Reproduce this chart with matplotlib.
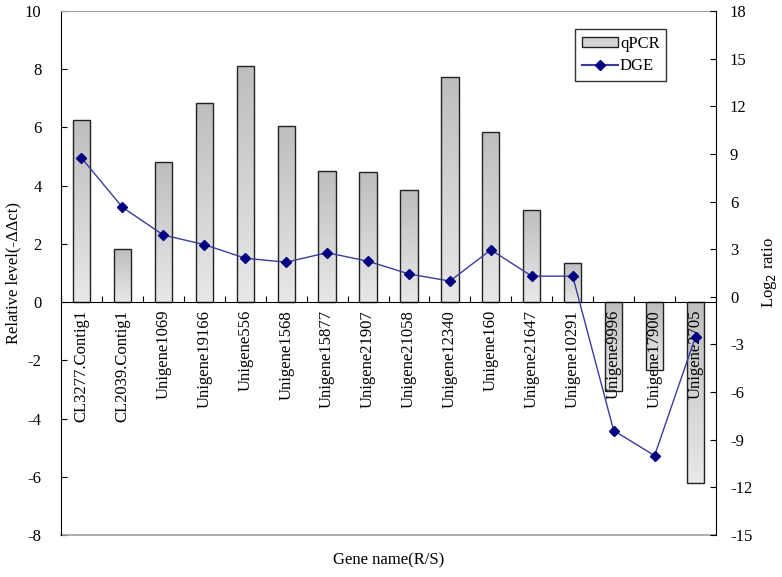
import numpy as np
import matplotlib
matplotlib.use("Agg")
import matplotlib.pyplot as plt
from matplotlib.lines import Line2D
from matplotlib.patches import Patch
from matplotlib.colors import LinearSegmentedColormap

genes = ["CL3277.Contig1", "CL2039.Contig1", "Unigene1069", "Unigene19166", "Unigene556",
         "Unigene1568", "Unigene15877", "Unigene21907", "Unigene21058", "Unigene12340",
         "Unigene160", "Unigene21647", "Unigene10291", "Unigene9996", "Unigene17900",
         "Unigene2705"]
qpcr = [6.24, 1.82, 4.80, 6.84, 8.10, 6.06, 4.50, 4.46, 3.84, 7.73, 5.83, 3.18, 1.36,
        -3.04, -2.33, -6.21]
dge = [8.75, 5.64, 3.89, 3.29, 2.43, 2.18, 2.78, 2.24, 1.44, 0.99, 2.96, 1.30, 1.30,
       -8.42, -10.0, -2.51]
left_ticks = [10, 8, 6, 4, 2, 0, -2, -4, -6, -8]
right_ticks = [18, 15, 12, 9, 6, 3, 0, -3, -6, -9, -12, -15]

plt.rcParams['font.family'] = ['Liberation Serif', 'DejaVu Serif']
plt.rcParams['axes.unicode_minus'] = False

FS = 12
fig = plt.figure(figsize=(7.82, 5.77), dpi=100)
ax = fig.add_axes([61/782, 1-535/577, 655/782, 524/577])
x = np.arange(len(genes))

ax.set_xlim(-0.5, len(genes) - 0.5)
ax.set_ylim(-8, 10)

bars = ax.bar(x, qpcr, width=0.42, facecolor='none', edgecolor='#222222', linewidth=1.0, zorder=3)
grad = np.linspace(0, 1, 100).reshape(-1, 1)
cmap = LinearSegmentedColormap.from_list('g', ['#e8e8e8', '#bebebe'])
for b in bars:
    x0, y0 = b.get_x(), b.get_y()
    w, h = b.get_width(), b.get_height()
    lo, hi = min(y0, y0 + h), max(y0, y0 + h)
    im = ax.imshow(grad, extent=[x0, x0 + w, lo, hi], origin='lower', cmap=cmap,
                   aspect='auto', zorder=2)
    im.set_clip_path(b)
ax.set_xlim(-0.5, len(genes) - 0.5)
ax.set_ylim(-8, 10)

# spines
ax.spines['bottom'].set_position(('data', 0))
ax.spines['bottom'].set_color('#000000')
ax.spines['bottom'].set_zorder(4)
ax.spines['top'].set_color('#a0a0a0')
ax.spines['right'].set_visible(False)
ax.axhline(-8, color='#a0a0a0', linewidth=1.2, clip_on=False)
ax.set_xticks(np.arange(-0.5, len(genes), 1.0))
ax.set_xticklabels([])
ax.tick_params(axis='x', direction='in', length=4, color='#000000')
ax.set_yticks(left_ticks)
ax.set_yticklabels([str(t) for t in left_ticks])
ax.tick_params(axis='y', direction='in', length=4, labelsize=FS, pad=14)
ax.text(-0.072, 0.5, 'Relative level(-ΔΔct)', transform=ax.transAxes, rotation=90,
        ha='center', va='center', fontsize=FS)

for i, g in enumerate(genes):
    ax.text(i, -0.27, g, rotation=90, ha='center', va='top', fontsize=FS, zorder=5)

ax.text(0.5, -0.048, 'Gene name(R/S)', transform=ax.transAxes, ha='center', va='center', fontsize=FS)

ax2 = ax.twinx()
ax2.set_ylim(-15, 18)
ax2.set_yticks(right_ticks)
ax2.set_yticklabels([str(t) for t in right_ticks])
ax2.tick_params(axis='y', direction='in', length=4, labelsize=FS, pad=10)
for s in ['top', 'bottom', 'left']:
    ax2.spines[s].set_visible(False)
ax2.plot(x, dge, color='#3b3b9c', linewidth=1.0, marker='D', markersize=5,
         markerfacecolor='#000080', markeredgecolor='#000080', zorder=6)
ax2.text(1.081, 0.5, 'Log$_2$ ratio', transform=ax2.transAxes, rotation=90,
         ha='center', va='center', fontsize=FS)

handles = [Patch(facecolor='#d4d4d4', edgecolor='#222222', linewidth=1.0),
           Line2D([0], [0], color='#3b3b9c', marker='D', markersize=5,
                  markerfacecolor='#000080', markeredgecolor='#000080')]
leg = ax2.legend(handles, ['qPCR', 'DGE'], loc='upper left', bbox_to_anchor=(514/655, 1 - 18/524),
                 fontsize=FS, frameon=True, fancybox=False, edgecolor='#000000',
                 handlelength=2.2, handleheight=0.5, handletextpad=0.1, borderpad=0.4,
                 labelspacing=0.4, borderaxespad=0)
leg.get_frame().set_linewidth(1.0)

fig.savefig('out.png', dpi=100)
